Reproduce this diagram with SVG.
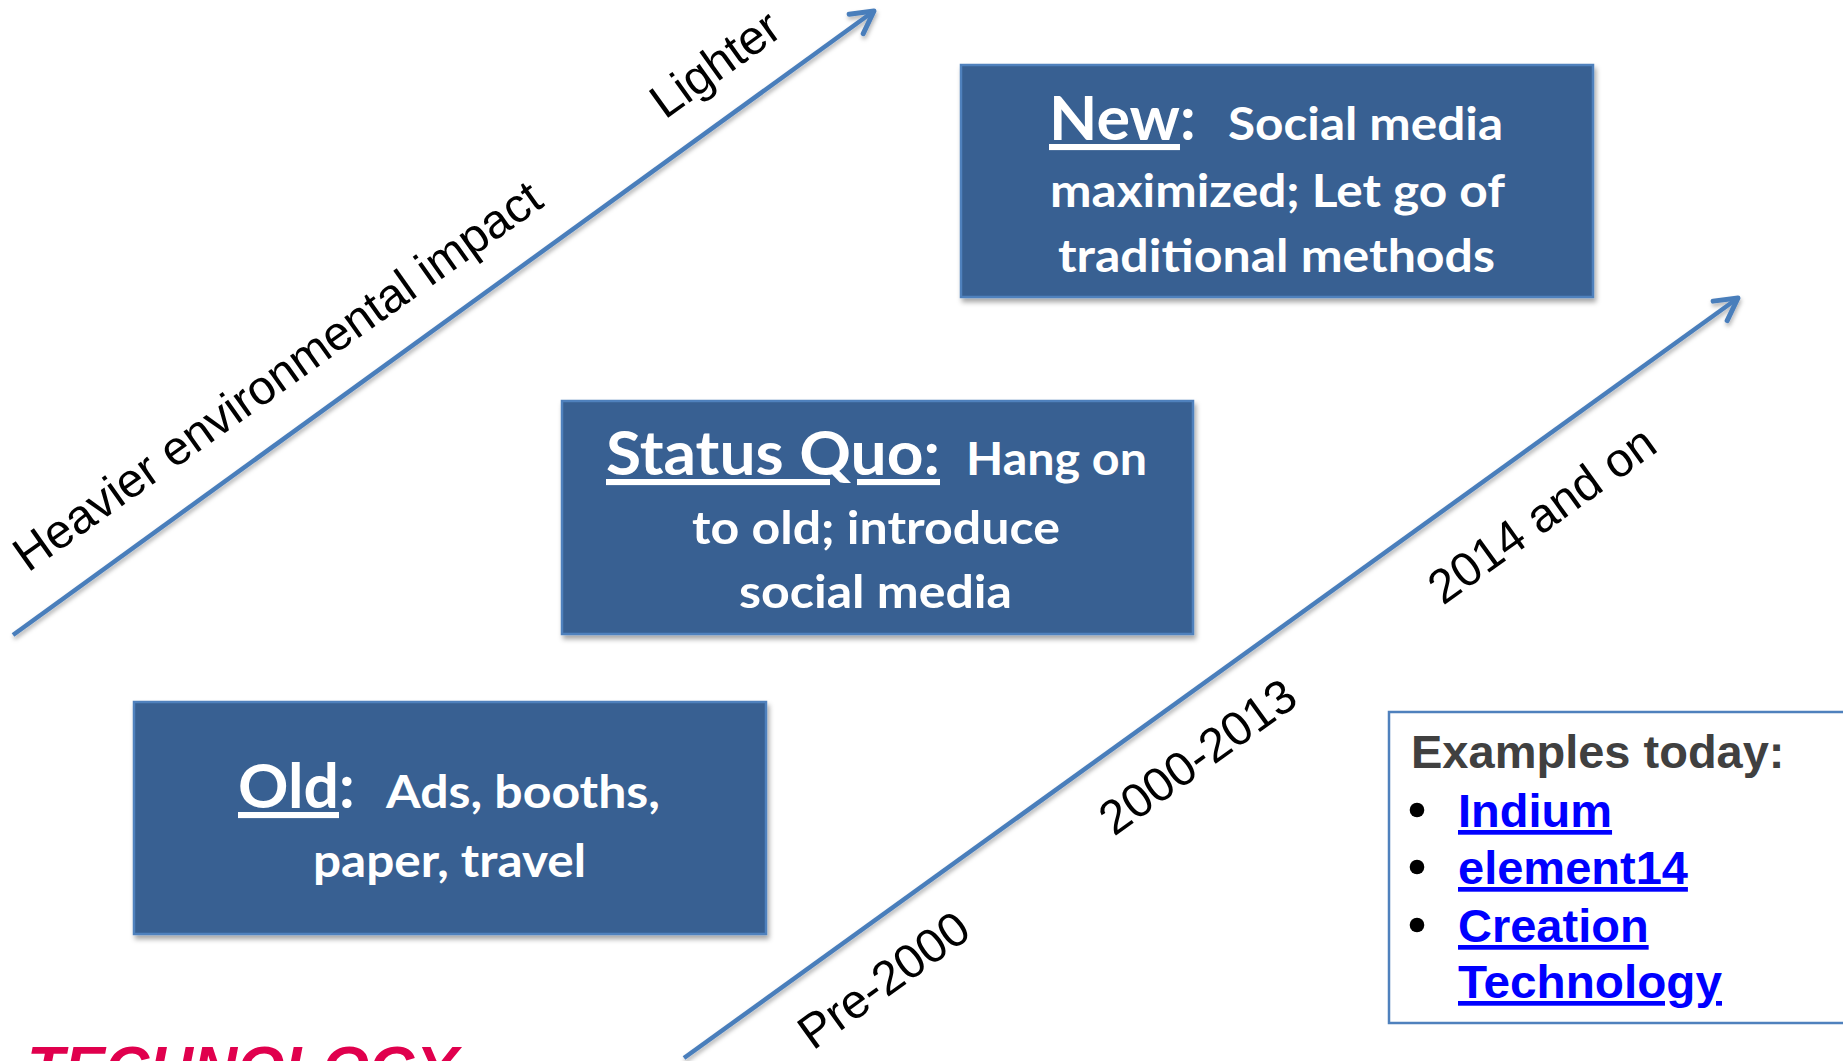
<svg xmlns="http://www.w3.org/2000/svg" width="1843" height="1061" viewBox="0 0 1843 1061">
<style>
.box{fill:#376092;stroke:#4f81bd;stroke-width:2.5;filter:url(#sh)}
.bt{font-family:Lato,"Open Sans",sans-serif;font-weight:bold;fill:#ffffff}
.big{font-size:61px}
.med{font-size:46px}
.ul{text-decoration:underline;text-decoration-thickness:4px}
.lab{font-family:"Liberation Sans",Arial,sans-serif;font-size:48px;fill:#000000}
.conn{stroke:#4a7ebb;stroke-width:4.5;fill:none;marker-end:url(#ah);filter:url(#lsh)}
.ex{font-family:"Liberation Sans",Arial,sans-serif;font-weight:bold;font-size:47px}
.bul{fill:#000000}
.link{fill:#0000ff;text-decoration:underline}
</style>
<defs>
<filter id="sh" x="-10%" y="-10%" width="125%" height="130%">
<feDropShadow dx="2" dy="4" stdDeviation="2.5" flood-color="#000" flood-opacity="0.35"/>
</filter>
<filter id="lsh" x="-10%" y="-10%" width="125%" height="130%">
<feDropShadow dx="1" dy="3" stdDeviation="2" flood-color="#000" flood-opacity="0.3"/>
</filter>
<marker id="ah" markerUnits="userSpaceOnUse" viewBox="-30 -20 40 40" refX="0" refY="0" markerWidth="40" markerHeight="40" orient="auto">
<path d="M -22 -12 L 0 0 L -22 12" fill="none" stroke="#4a7ebb" stroke-width="5" stroke-linecap="round" stroke-linejoin="round"/>
</marker>
</defs>
<rect width="1843" height="1061" fill="#ffffff"/>

<g id="connectors">
<line class="conn" x1="13" y1="635" x2="874" y2="11"/>
<line class="conn" x1="684" y1="1058" x2="1738" y2="298"/>
</g>

<g id="axis-labels">
<text class="lab" transform="translate(28,573) rotate(-35.4)">Heavier environmental impact</text>
<text class="lab" transform="translate(665,120) rotate(-35.7)">Lighter</text>
<text class="lab" transform="translate(813,1051) rotate(-35.7)">Pre-2000</text>
<text class="lab" transform="translate(1114,837) rotate(-35.7)">2000-2013</text>
<text class="lab" transform="translate(1443,606) rotate(-35.7)">2014 and on</text>
</g>

<g id="node-new">
<rect class="box" x="961" y="65" width="632" height="232"/>
<text class="bt"><tspan class="big ul" x="1049" y="140" textLength="131" lengthAdjust="spacingAndGlyphs">New</tspan><tspan class="big">:</tspan><tspan class="med" x="1228" y="140" textLength="275" lengthAdjust="spacingAndGlyphs">Social media</tspan></text>
<text class="bt med" x="1050" y="207" textLength="455" lengthAdjust="spacingAndGlyphs">maximized; Let go of</text>
<text class="bt med" x="1058" y="272" textLength="437" lengthAdjust="spacingAndGlyphs">traditional methods</text>
</g>

<g id="node-status-quo">
<rect class="box" x="562" y="401" width="631" height="233"/>
<text class="bt"><tspan class="big ul" x="606" y="475" textLength="334" lengthAdjust="spacingAndGlyphs">Status Quo:</tspan><tspan class="med" x="966" y="475" textLength="181" lengthAdjust="spacingAndGlyphs">Hang on</tspan></text>
<text class="bt med" x="692" y="544" textLength="368" lengthAdjust="spacingAndGlyphs">to old; introduce</text>
<text class="bt med" x="739" y="608" textLength="273" lengthAdjust="spacingAndGlyphs">social media</text>
</g>

<g id="node-old">
<rect class="box" x="134" y="702" width="632" height="232"/>
<text class="bt"><tspan class="big ul" x="238" y="808" textLength="101" lengthAdjust="spacingAndGlyphs">Old</tspan><tspan class="big">:</tspan><tspan class="med" x="386" y="808" textLength="274" lengthAdjust="spacingAndGlyphs">Ads, booths,</tspan></text>
<text class="bt med" x="313" y="877" textLength="273" lengthAdjust="spacingAndGlyphs">paper, travel</text>
</g>

<g id="node-examples">
<rect x="1389" y="712" width="470" height="311" fill="#ffffff" stroke="#4f81bd" stroke-width="2.5"/>
<text class="ex" x="1411" y="768" fill="#404040">Examples today:</text>
<circle class="bul" cx="1417" cy="810" r="7.3"/>
<circle class="bul" cx="1417" cy="867" r="7.3"/>
<circle class="bul" cx="1417" cy="925" r="7.3"/>
<text class="ex link" x="1458" y="827">Indium</text>
<text class="ex link" x="1458" y="884">element14</text>
<text class="ex link" x="1458" y="942">Creation</text>
<text class="ex link" x="1458" y="998" textLength="264" lengthAdjust="spacingAndGlyphs">Technology</text>
</g>

<g id="logo">
<text x="27" y="1089" font-family="Liberation Sans,Arial,sans-serif" font-weight="bold" font-style="italic" font-size="61" fill="#e0004d">TECHNOLOGY</text>
</g>
</svg>
